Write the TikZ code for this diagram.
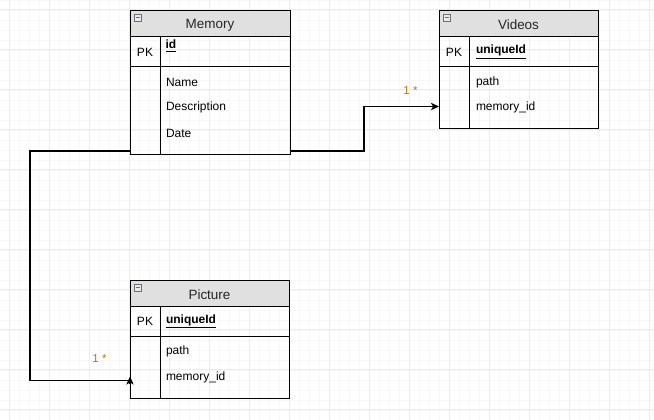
\documentclass[tikz,border=0pt]{standalone}
\usepackage{fontspec}
\setmainfont{Liberation Sans}
\usetikzlibrary{arrows.meta}
\definecolor{hdr}{RGB}{224,224,224}
\definecolor{gmajor}{RGB}{236,236,236}
\definecolor{gminor}{RGB}{247,247,247}
\definecolor{cardc}{RGB}{190,120,0}
\definecolor{iconc}{RGB}{110,110,120}
\begin{document}
\begin{tikzpicture}[x=0.75pt,y=-0.75pt,
  every node/.style={outer sep=0pt},
  gridminor/.style={draw=gminor,line width=0.6pt},
  gridmajor/.style={draw=gmajor,line width=0.75pt},
  hdrbox/.style={draw=black,fill=hdr,line width=0.75pt,anchor=north west,inner sep=0pt},
  tblbox/.style={draw=black,line width=0.75pt,anchor=north west,inner sep=0pt},
  sep/.style={draw=black,line width=0.75pt},
  title/.style={font=\fontsize{10.1pt}{12pt}\selectfont,inner sep=0pt,text=black!85},
  pk/.style={font=\fontsize{9pt}{11pt}\selectfont,inner sep=0pt},
  field/.style={font=\fontsize{9pt}{11pt}\selectfont,inner sep=0pt,anchor=west},
  keyf/.style={font=\fontsize{9pt}{11pt}\selectfont\bfseries,inner sep=0pt,anchor=west},
  card/.style={font=\fontsize{8.6pt}{10pt}\selectfont,inner sep=0pt,text=cardc},
  icon/.style={draw=iconc,fill=white!92!black,line width=0.5pt},
  conn/.style={draw=black,line width=0.9pt},
  tip/.style={-{Stealth[length=6pt,width=5.5pt,inset=1.6pt]}}
]
\useasboundingbox (0,0) rectangle (654,420);
\fill[white] (0,0) rectangle (654,420);
% grid
\foreach \x in {9,19,...,649} \draw[gridminor] (\x,0) -- (\x,420);
\foreach \y in {0,10,...,420} \draw[gridminor] (0,\y) -- (654,\y);
\foreach \x in {9,49,...,649} \draw[gridmajor] (\x,0) -- (\x,420);
\foreach \y in {10,50,...,410} \draw[gridmajor] (0,\y) -- (654,\y);

% ---------- Memory ----------
\node[hdrbox,minimum width=120pt,minimum height=19.5pt] (memoryhdr) at (130,11) {};
\node[tblbox,minimum width=120pt,minimum height=108pt] (memory) at (130,11) {};
\draw[sep] (130,67) -- (290,67);
\draw[sep] (160,37) -- (160,155);
\draw[icon] (134,14) rectangle (141,21);
\draw[draw=iconc,line width=0.6pt] (135.5,17.5) -- (139.5,17.5);
\node[title] (memorytitle) at (210,25) {Memory};
\node[pk] (memorypk) at (145,52) {PK};
\node[keyf] (memoryid) at (165.5,46) {\underline{id}};
\node[field] (memoryname) at (166,82) {Name};
\node[field] (memorydesc) at (166,107.5) {Description};
\node[field] (memorydate) at (166,133.5) {Date};

% ---------- Videos ----------
\node[hdrbox,minimum width=119.25pt,minimum height=19.5pt] (videoshdr) at (439,11) {};
\node[tblbox,minimum width=119.25pt,minimum height=88.5pt] (videos) at (439,11) {};
\draw[sep] (439,67) -- (598,67);
\draw[sep] (469.5,37) -- (469.5,129);
\draw[icon] (443,14) rectangle (450,21);
\draw[draw=iconc,line width=0.6pt] (444.5,17.5) -- (448.5,17.5);
\node[title] (videostitle) at (518.5,25) {Videos};
\node[pk] (videospk) at (454,52) {PK};
\node[keyf] (videosid) at (476,52) {\underline{uniqueId}};
\node[field] (videospath) at (476,82) {path};
\node[field] (videosmem) at (476,107.5) {memory\_id};

% ---------- Picture ----------
\node[hdrbox,minimum width=119.5pt,minimum height=19.5pt] (picturehdr) at (130,281) {};
\node[tblbox,minimum width=119.5pt,minimum height=88pt] (picture) at (130,281) {};
\draw[sep] (130,336.5) -- (289.5,336.5);
\draw[sep] (160,307) -- (160,398.5);
\draw[icon] (134,284) rectangle (141,291);
\draw[draw=iconc,line width=0.6pt] (135.5,287.5) -- (139.5,287.5);
\node[title] (picturetitle) at (209.5,294.5) {Picture};
\node[pk] (picturepk) at (145,321.5) {PK};
\node[keyf] (pictureid) at (166,321.5) {\underline{uniqueId}};
\node[field] (picturepath) at (166,351.5) {path};
\node[field] (picturemem) at (166,377) {memory\_id};

% ---------- connectors ----------
\draw[conn,tip] (memory.east |- 0,151) -- (364,151) |- (videos.west |- 0,106.5);
\node[card] (cardv) at (410.5,91) {1 *};
\draw[conn] (memory.west |- 0,151) -- (30,151) |- (picture.west |- 0,380.5);
\draw[conn,tip] (picture.west |- 0,384) -- (picture.west |- 0,376.5);
\node[card] (cardp) at (99.5,358.5) {1 *};
\end{tikzpicture}
\end{document}
